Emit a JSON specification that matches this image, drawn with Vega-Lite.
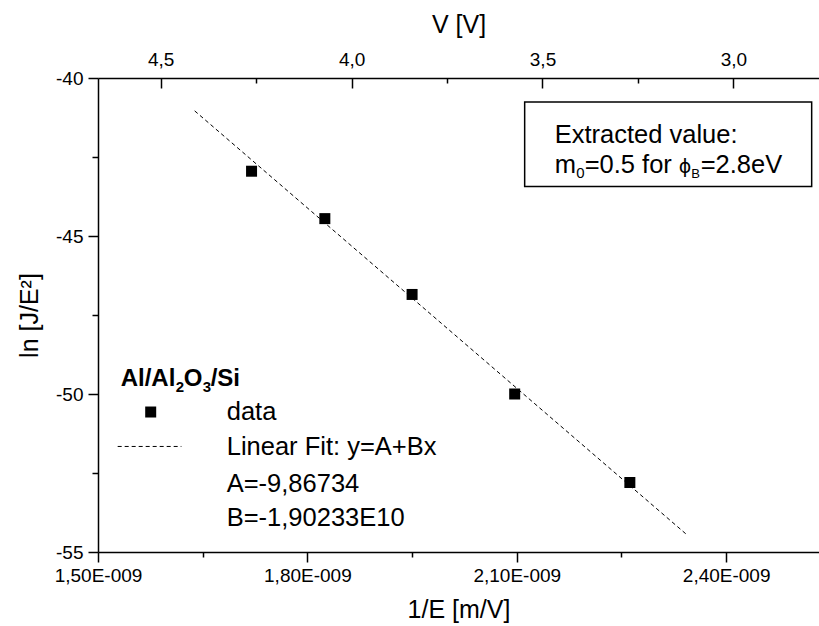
{
  "$schema": "https://vega.github.io/schema/vega-lite/v6.json",
  "width": 721,
  "height": 474,
  "autosize": "none",
  "padding": {"left": 98, "top": 78, "right": 0, "bottom": 74},
  "background": "white",
  "config": {
    "view": {"stroke": null},
    "font": "Liberation Sans",
    "axis": {
      "domainColor": "black", "tickColor": "black", "labelColor": "black", "titleColor": "black",
      "grid": false, "labelFont": "Liberation Sans", "titleFont": "Liberation Sans",
      "titleFontWeight": "normal", "domainWidth": 1.5, "tickWidth": 1.5,
      "labelFontSize": 19, "titleFontSize": 25, "labelOverlap": false, "labelFlush": false
    }
  },
  "datasets": {
    "points": [
      {"inv_E": 1.72e-9, "lnJ": -42.95},
      {"inv_E": 1.825e-9, "lnJ": -44.45},
      {"inv_E": 1.95e-9, "lnJ": -46.85},
      {"inv_E": 2.097e-9, "lnJ": -50.0},
      {"inv_E": 2.262e-9, "lnJ": -52.8}
    ],
    "fit": [
      {"inv_E": 1.6385e-9, "lnJ": -41.04},
      {"inv_E": 2.343e-9, "lnJ": -54.44}
    ]
  },
  "layer": [
    {
      "layer": [
        {
          "data": {"name": "fit"},
          "mark": {"type": "line", "color": "black", "strokeWidth": 1, "strokeDash": [4, 3]},
          "encoding": {
            "x": {"field": "inv_E", "type": "quantitative"},
            "y": {"field": "lnJ", "type": "quantitative"}
          }
        },
        {
          "data": {"name": "points"},
          "mark": {"type": "point", "shape": "square", "filled": true, "color": "black", "opacity": 1, "size": 121},
          "encoding": {
            "x": {
              "field": "inv_E", "type": "quantitative",
              "scale": {"domain": [1.5e-9, 2.533e-9], "nice": false, "zero": false},
              "axis": {
                "orient": "bottom", "title": "1/E [m/V]",
                "values": [1.5e-9, 1.65e-9, 1.8e-9, 1.95e-9, 2.1e-9, 2.25e-9, 2.4e-9],
                "labelExpr": "round(datum.value*1e11) % 30 == 0 ? replace(format(datum.value*1e9, '.2f'), '.', ',') + 'E-009' : ''",
                "tickSize": {"condition": {"test": "round(datum.value*1e11) % 30 == 0", "value": 10}, "value": 5},
                "labelPadding": 4, "titlePadding": 12
              }
            },
            "y": {
              "field": "lnJ", "type": "quantitative",
              "scale": {"domain": [-55, -40], "nice": false, "zero": false},
              "axis": {
                "title": "ln [J/E²]",
                "values": [-55, -52.5, -50, -47.5, -45, -42.5, -40],
                "labelExpr": "datum.value % 5 == 0 ? toString(datum.value) : ''",
                "tickSize": {"condition": {"test": "datum.value % 5 == 0", "value": 10}, "value": 6},
                "labelPadding": 5, "titlePadding": 13
              }
            }
          }
        },
        {
          "data": {"values": [{"t": "box"}]},
          "mark": {"type": "rect", "fill": "white", "stroke": "black", "strokeWidth": 1.5},
          "encoding": {
            "x": {"datum": 2.1113e-9}, "x2": {"datum": 2.5225e-9},
            "y": {"datum": -40.76}, "y2": {"datum": -43.43}
          }
        },
        {
          "data": {"values": [{"t": "Extracted value:"}]},
          "mark": {"type": "text", "align": "left", "baseline": "alphabetic", "fontSize": 25.5, "color": "black"},
          "encoding": {"x": {"datum": 2.1543e-9}, "y": {"datum": -42.06}, "text": {"field": "t"}}
        },
        {
          "data": {"values": [{"t": "m"}]},
          "mark": {"type": "text", "align": "left", "baseline": "alphabetic", "fontSize": 25.5, "color": "black"},
          "encoding": {"x": {"datum": 2.1543e-9}, "y": {"datum": -43.01}, "text": {"field": "t"}}
        },
        {
          "data": {"values": [{"t": "0"}]},
          "mark": {"type": "text", "align": "left", "baseline": "alphabetic", "fontSize": 15, "color": "black", "dx": 21.5, "dy": 5},
          "encoding": {"x": {"datum": 2.1543e-9}, "y": {"datum": -43.01}, "text": {"field": "t"}}
        },
        {
          "data": {"values": [{"t": "=0.5 for"}]},
          "mark": {"type": "text", "align": "left", "baseline": "alphabetic", "fontSize": 25.5, "color": "black", "dx": 30},
          "encoding": {"x": {"datum": 2.1543e-9}, "y": {"datum": -43.01}, "text": {"field": "t"}}
        },
        {
          "data": {"values": [{"t": "ϕ"}]},
          "mark": {"type": "text", "align": "left", "baseline": "alphabetic", "fontSize": 19, "font": "DejaVu Sans", "color": "black", "dx": 124},
          "encoding": {"x": {"datum": 2.1543e-9}, "y": {"datum": -43.01}, "text": {"field": "t"}}
        },
        {
          "data": {"values": [{"t": "B"}]},
          "mark": {"type": "text", "align": "left", "baseline": "alphabetic", "fontSize": 13, "color": "black", "dx": 136.5, "dy": 5},
          "encoding": {"x": {"datum": 2.1543e-9}, "y": {"datum": -43.01}, "text": {"field": "t"}}
        },
        {
          "data": {"values": [{"t": "=2.8eV"}]},
          "mark": {"type": "text", "align": "left", "baseline": "alphabetic", "fontSize": 25.5, "color": "black", "dx": 146},
          "encoding": {"x": {"datum": 2.1543e-9}, "y": {"datum": -43.01}, "text": {"field": "t"}}
        },
        {
          "data": {"values": [{"t": "Al/Al"}]},
          "mark": {"type": "text", "align": "left", "baseline": "alphabetic", "fontSize": 24, "fontWeight": "bold", "color": "black"},
          "encoding": {"x": {"datum": 1.5325e-9}, "y": {"datum": -49.74}, "text": {"field": "t"}}
        },
        {
          "data": {"values": [{"t": "2"}]},
          "mark": {"type": "text", "align": "left", "baseline": "alphabetic", "fontSize": 15, "fontWeight": "bold", "color": "black", "dx": 55, "dy": 6},
          "encoding": {"x": {"datum": 1.5325e-9}, "y": {"datum": -49.74}, "text": {"field": "t"}}
        },
        {
          "data": {"values": [{"t": "O"}]},
          "mark": {"type": "text", "align": "left", "baseline": "alphabetic", "fontSize": 24, "fontWeight": "bold", "color": "black", "dx": 63},
          "encoding": {"x": {"datum": 1.5325e-9}, "y": {"datum": -49.74}, "text": {"field": "t"}}
        },
        {
          "data": {"values": [{"t": "3"}]},
          "mark": {"type": "text", "align": "left", "baseline": "alphabetic", "fontSize": 15, "fontWeight": "bold", "color": "black", "dx": 82, "dy": 6},
          "encoding": {"x": {"datum": 1.5325e-9}, "y": {"datum": -49.74}, "text": {"field": "t"}}
        },
        {
          "data": {"values": [{"t": "/Si"}]},
          "mark": {"type": "text", "align": "left", "baseline": "alphabetic", "fontSize": 24, "fontWeight": "bold", "color": "black", "dx": 90},
          "encoding": {"x": {"datum": 1.5325e-9}, "y": {"datum": -49.74}, "text": {"field": "t"}}
        },
        {
          "data": {"values": [{"t": "data"}]},
          "mark": {"type": "point", "shape": "square", "filled": true, "color": "black", "opacity": 1, "size": 121},
          "encoding": {"x": {"datum": 1.5755e-9}, "y": {"datum": -50.57}}
        },
        {
          "data": {"values": [{"t": "fit"}]},
          "mark": {"type": "rule", "color": "black", "strokeWidth": 1, "strokeDash": [4, 3]},
          "encoding": {"x": {"datum": 1.5282e-9}, "x2": {"datum": 1.6195e-9}, "y": {"datum": -51.66}}
        },
        {
          "data": {"values": [{"t": "data"}]},
          "mark": {"type": "text", "align": "left", "baseline": "alphabetic", "fontSize": 25.5, "color": "black"},
          "encoding": {"x": {"datum": 1.6844e-9}, "y": {"datum": -50.835}, "text": {"field": "t"}}
        },
        {
          "data": {"values": [{"t": "Linear Fit: y=A+Bx"}]},
          "mark": {"type": "text", "align": "left", "baseline": "alphabetic", "fontSize": 25.5, "color": "black"},
          "encoding": {"x": {"datum": 1.6844e-9}, "y": {"datum": -51.92}, "text": {"field": "t"}}
        },
        {
          "data": {"values": [{"t": "A=-9,86734"}]},
          "mark": {"type": "text", "align": "left", "baseline": "alphabetic", "fontSize": 25.5, "color": "black"},
          "encoding": {"x": {"datum": 1.6844e-9}, "y": {"datum": -53.11}, "text": {"field": "t"}}
        },
        {
          "data": {"values": [{"t": "B=-1,90233E10"}]},
          "mark": {"type": "text", "align": "left", "baseline": "alphabetic", "fontSize": 25.5, "color": "black"},
          "encoding": {"x": {"datum": 1.6844e-9}, "y": {"datum": -54.19}, "text": {"field": "t"}}
        }
      ]
    },
    {
      "data": {"values": [{"V": 4.5}, {"V": 3.0}]},
      "mark": {"type": "point", "opacity": 0},
      "encoding": {
        "x": {
          "field": "V", "type": "quantitative",
          "scale": {"domain": [2.7758, 4.6642], "reverse": true, "nice": false, "zero": false},
          "axis": {
            "orient": "top", "title": "V [V]",
            "values": [4.5, 4.25, 4.0, 3.75, 3.5, 3.25, 3.0],
            "labelExpr": "round(datum.value*100) % 50 == 0 ? replace(format(datum.value, '.1f'), '.', ',') : ''",
            "tickSize": {"condition": {"test": "round(datum.value*100) % 50 == 0", "value": -10}, "value": -5},
            "labelPadding": 19, "titlePadding": 8
          }
        },
        "y": {"datum": -47.5}
      }
    }
  ],
  "resolve": {"scale": {"x": "independent"}}
}
